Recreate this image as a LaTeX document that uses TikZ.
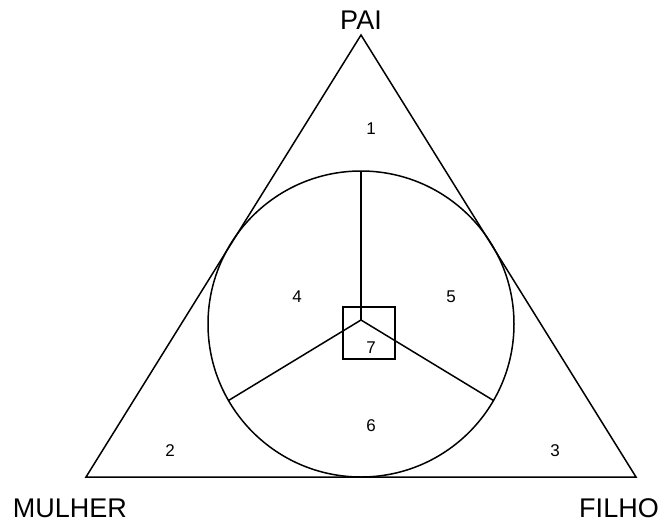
\documentclass[tikz,border=0pt]{standalone}
\usepackage{fontspec}
\setmainfont{Liberation Sans}
\usetikzlibrary{positioning}

\begin{document}
\begin{tikzpicture}[x=1pt, y=-1pt, line width=1.5pt,
		lbl/.style={font=\fontsize{27}{32}\selectfont},
		num/.style={font=\fontsize{17}{20}\selectfont}]
		\useasboundingbox (0,0) rectangle (662,523);
		
		\coordinate (top) at (361,35);
		\coordinate (left) at (86,477);
		\coordinate (right) at (636,477);
		
		\node[lbl] (pai) at (361,20) {PAI};
		\node[lbl] (mulher) at (70,508) {MULHER};
		\node[lbl] (filho) at (619,508) {FILHO};
		
		\node[draw, circle, minimum size=306pt, inner sep=0pt, outer sep=0pt] (circ) at (361,324) {};
		\node[draw, minimum size=52pt, inner sep=0pt] (sq) at (369,333) {};
		\coordinate (mid) at (361,320);
		
		\node[num] (n1) at (371,129) {1};
		\node[num] (n2) at (170,451) {2};
		\node[num] (n3) at (555,451) {3};
		\node[num] (n4) at (297,297) {4};
		\node[num] (n5) at (451,297) {5};
		\node[num] (n6) at (371,426) {6};
		\node[num] (n7) at (371,348) {7};
		
		% Draw edges
		\draw (top) -- (left) -- (right) -- cycle;
		\draw (mid) -- (circ.north);
		\draw (mid) -- (circ.210);
		\draw (mid) -- (circ.330);
	\end{tikzpicture}
\end{document}
